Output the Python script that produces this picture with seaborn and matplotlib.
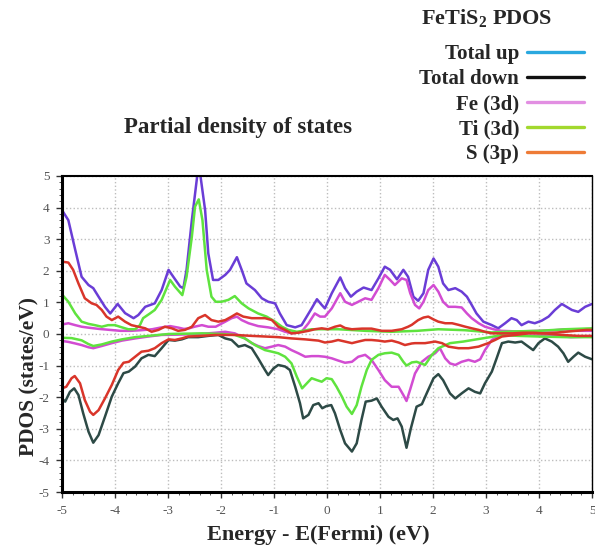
import pandas as pd
import matplotlib
matplotlib.use("Agg")
import matplotlib.pyplot as plt
from matplotlib.lines import Line2D
from matplotlib.ticker import MultipleLocator
import seaborn as sns

# Leitura aproximada das curvas (energia E-Ef em eV, PDOS em states/eV)
tot_up = [(-5.0, 3.92), (-4.88, 3.6), (-4.75, 2.66), (-4.63, 1.81), (-4.5, 1.55), (-4.41, 1.45),
          (-4.31, 1.18), (-4.19, 0.86), (-4.09, 0.65), (-3.95, 0.95), (-3.81, 0.66), (-3.65, 0.5),
          (-3.56, 0.6), (-3.43, 0.86), (-3.25, 0.97), (-3.12, 1.39), (-2.99, 2.03), (-2.9, 1.81),
          (-2.77, 1.5), (-2.71, 1.45), (-2.65, 2.03), (-2.55, 3.6), (-2.42, 5.4), (-2.3, 3.92),
          (-2.24, 2.55), (-2.15, 1.71), (-2.05, 1.71), (-1.92, 1.87), (-1.83, 2.03), (-1.7, 2.43),
          (-1.61, 2.03), (-1.52, 1.6), (-1.36, 1.39), (-1.23, 1.13), (-1.11, 1.02), (-0.98, 0.97),
          (-0.89, 0.65), (-0.76, 0.28), (-0.6, 0.21), (-0.48, 0.28), (-0.29, 0.81), (-0.19, 1.1),
          (-0.1, 0.92), (-0.04, 0.81), (0.09, 1.29), (0.25, 1.79), (0.34, 1.45), (0.45, 1.18),
          (0.56, 1.34), (0.69, 1.47), (0.84, 1.39), (0.97, 1.76), (1.09, 2.13), (1.19, 2.03),
          (1.32, 1.73), (1.44, 2.03), (1.53, 1.81), (1.63, 1.18), (1.72, 1.05), (1.82, 1.29),
          (1.91, 2.03), (2.01, 2.39), (2.1, 2.13), (2.19, 1.6), (2.29, 1.39), (2.42, 1.45),
          (2.54, 1.34), (2.64, 1.18), (2.73, 0.92), (2.82, 0.65), (2.95, 0.39), (3.11, 0.28),
          (3.23, 0.18), (3.36, 0.34), (3.48, 0.5), (3.58, 0.44), (3.67, 0.28), (3.8, 0.39),
          (3.92, 0.34), (4.05, 0.42), (4.18, 0.55), (4.3, 0.76), (4.43, 0.95), (4.52, 0.86),
          (4.62, 0.76), (4.74, 0.7), (4.87, 0.86), (5.0, 0.95)]

tot_dn = [(-5.0, -2.04), (-4.94, -2.14), (-4.85, -1.83), (-4.77, -1.72), (-4.69, -1.93), (-4.6, -2.51),
          (-4.5, -3.09), (-4.41, -3.44), (-4.31, -3.2), (-4.19, -2.62), (-4.06, -1.98), (-3.94, -1.56),
          (-3.84, -1.24), (-3.74, -1.19), (-3.62, -1.03), (-3.5, -0.77), (-3.37, -0.66), (-3.25, -0.7),
          (-3.12, -0.45), (-2.99, -0.19), (-2.87, -0.21), (-2.74, -0.17), (-2.62, -0.1), (-2.43, -0.1),
          (-2.24, -0.06), (-2.05, -0.03), (-1.92, -0.14), (-1.8, -0.19), (-1.67, -0.4), (-1.55, -0.35),
          (-1.42, -0.45), (-1.3, -0.77), (-1.17, -1.14), (-1.11, -1.3), (-1.01, -1.09), (-0.92, -0.98),
          (-0.79, -1.03), (-0.7, -1.14), (-0.6, -1.67), (-0.51, -2.19), (-0.45, -2.67), (-0.35, -2.56),
          (-0.26, -2.25), (-0.16, -2.19), (-0.09, -2.35), (-0.01, -2.28), (0.08, -2.25), (0.15, -2.51),
          (0.25, -3.04), (0.34, -3.46), (0.47, -3.72), (0.56, -3.46), (0.65, -2.72), (0.73, -2.14),
          (0.84, -2.11), (0.94, -2.04), (1.03, -2.3), (1.16, -2.62), (1.25, -2.72), (1.33, -2.67),
          (1.41, -2.93), (1.5, -3.6), (1.58, -3.0), (1.69, -2.3), (1.79, -2.22), (1.88, -1.88),
          (2.01, -1.4), (2.1, -1.27), (2.19, -1.46), (2.32, -1.88), (2.42, -2.04), (2.54, -1.88),
          (2.67, -1.72), (2.79, -1.83), (2.89, -1.88), (2.98, -1.56), (3.11, -1.19), (3.2, -0.77),
          (3.3, -0.29), (3.42, -0.24), (3.55, -0.27), (3.67, -0.24), (3.8, -0.4), (3.89, -0.51),
          (3.99, -0.29), (4.11, -0.14), (4.24, -0.24), (4.36, -0.4), (4.46, -0.61), (4.55, -0.88),
          (4.65, -0.72), (4.74, -0.59), (4.87, -0.72), (5.0, -0.8)]

fe_up = [(-5.0, 0.3), (-4.88, 0.34), (-4.75, 0.28), (-4.63, 0.23), (-4.5, 0.2), (-4.3, 0.16),
         (-4.1, 0.13), (-3.9, 0.1), (-3.7, 0.1), (-3.5, 0.12), (-3.3, 0.15), (-3.15, 0.2),
         (-2.96, 0.25), (-2.8, 0.2), (-2.7, 0.16), (-2.6, 0.18), (-2.5, 0.23), (-2.36, 0.28),
         (-2.24, 0.23), (-2.1, 0.23), (-1.92, 0.39), (-1.8, 0.5), (-1.7, 0.55), (-1.61, 0.44),
         (-1.48, 0.34), (-1.3, 0.25), (-1.11, 0.21), (-0.92, 0.15), (-0.79, 0.07), (-0.67, 0.02),
         (-0.48, 0.07), (-0.35, 0.34), (-0.23, 0.65), (-0.13, 0.55), (-0.04, 0.55), (0.09, 0.81),
         (0.25, 1.29), (0.34, 1.02), (0.47, 0.92), (0.59, 1.02), (0.72, 1.13), (0.84, 1.08),
         (0.97, 1.45), (1.09, 1.87), (1.19, 1.71), (1.28, 1.55), (1.41, 1.76), (1.5, 1.71),
         (1.57, 1.29), (1.66, 0.92), (1.74, 0.81), (1.82, 1.02), (1.91, 1.39), (2.01, 1.55),
         (2.1, 1.34), (2.19, 1.02), (2.29, 0.86), (2.42, 0.86), (2.54, 0.84), (2.64, 0.65),
         (2.73, 0.5), (2.86, 0.34), (2.98, 0.23), (3.14, 0.15), (3.29, 0.1), (3.6, 0.08),
         (4.0, 0.1), (4.3, 0.12), (4.5, 0.15), (4.7, 0.1), (5.0, 0.1)]

fe_dn = [(-5.0, -0.22), (-4.88, -0.25), (-4.75, -0.3), (-4.63, -0.35), (-4.5, -0.42), (-4.41, -0.45),
         (-4.25, -0.38), (-4.06, -0.29), (-3.87, -0.21), (-3.62, -0.14), (-3.37, -0.08), (-3.12, -0.03),
         (-2.8, -0.02), (-2.4, 0.0), (-2.1, 0.04), (-1.92, 0.07), (-1.74, 0.02), (-1.55, -0.14),
         (-1.42, -0.29), (-1.3, -0.38), (-1.17, -0.45), (-1.04, -0.4), (-0.92, -0.35), (-0.79, -0.4),
         (-0.67, -0.51), (-0.54, -0.61), (-0.41, -0.72), (-0.29, -0.7), (-0.16, -0.7), (-0.04, -0.72),
         (0.09, -0.77), (0.21, -0.84), (0.34, -0.91), (0.47, -0.88), (0.59, -0.72), (0.72, -0.66),
         (0.84, -0.82), (0.97, -1.14), (1.09, -1.46), (1.22, -1.67), (1.35, -1.67), (1.44, -1.93),
         (1.5, -2.12), (1.57, -1.75), (1.66, -1.25), (1.79, -0.88), (1.91, -0.72), (2.04, -0.61),
         (2.13, -0.45), (2.23, -0.77), (2.32, -0.93), (2.42, -0.98), (2.54, -0.88), (2.67, -0.82),
         (2.79, -0.88), (2.89, -0.8), (2.98, -0.51), (3.11, -0.19), (3.23, -0.08), (3.36, -0.03),
         (3.8, -0.05), (4.3, -0.05), (4.6, -0.1), (5.0, -0.08)]

ti_up = [(-5.0, 1.25), (-4.88, 1.02), (-4.75, 0.65), (-4.63, 0.39), (-4.5, 0.32), (-4.38, 0.28),
         (-4.25, 0.23), (-4.13, 0.28), (-4.0, 0.28), (-3.87, 0.21), (-3.75, 0.15), (-3.62, 0.15),
         (-3.53, 0.28), (-3.47, 0.5), (-3.34, 0.65), (-3.25, 0.76), (-3.12, 1.08), (-2.96, 1.71),
         (-2.87, 1.5), (-2.73, 1.23), (-2.65, 1.81), (-2.55, 3.08), (-2.49, 4.03), (-2.42, 4.26),
         (-2.35, 3.6), (-2.27, 2.03), (-2.18, 1.18), (-2.1, 1.02), (-1.99, 1.02), (-1.86, 1.08),
         (-1.74, 1.2), (-1.61, 0.97), (-1.48, 0.81), (-1.3, 0.65), (-1.14, 0.55), (-0.98, 0.39),
         (-0.85, 0.23), (-0.73, 0.13), (-0.57, 0.07), (-0.29, 0.15), (0.21, 0.15), (0.72, 0.1),
         (1.22, 0.07), (1.7, 0.1), (2.1, 0.15), (2.6, 0.12), (3.1, 0.05), (3.5, 0.08),
         (4.0, 0.1), (4.5, 0.15), (5.0, 0.18)]

ti_dn = [(-5.0, -0.12), (-4.82, -0.13), (-4.63, -0.2), (-4.5, -0.32), (-4.41, -0.38), (-4.25, -0.33),
         (-4.06, -0.24), (-3.87, -0.17), (-3.62, -0.1), (-3.37, -0.06), (-2.99, 0.0), (-2.36, 0.02),
         (-1.99, 0.0), (-1.74, -0.03), (-1.55, -0.14), (-1.36, -0.35), (-1.17, -0.51), (-1.04, -0.56),
         (-0.92, -0.61), (-0.79, -0.72), (-0.67, -0.93), (-0.57, -1.35), (-0.47, -1.72), (-0.38, -1.56),
         (-0.29, -1.4), (-0.19, -1.46), (-0.1, -1.51), (-0.01, -1.4), (0.09, -1.43), (0.18, -1.67),
         (0.28, -1.98), (0.37, -2.3), (0.47, -2.53), (0.56, -2.25), (0.65, -1.67), (0.75, -1.14),
         (0.84, -0.82), (0.97, -0.66), (1.09, -0.61), (1.22, -0.59), (1.35, -0.66), (1.44, -0.88),
         (1.5, -1.0), (1.6, -0.9), (1.69, -0.88), (1.85, -0.98), (1.98, -0.66), (2.1, -0.45),
         (2.32, -0.29), (2.57, -0.24), (2.82, -0.17), (3.08, -0.1), (3.3, -0.03), (3.6, -0.06),
         (4.0, -0.08), (4.5, -0.1), (5.0, -0.1)]

s_up = [(-5.0, 2.29), (-4.88, 2.26), (-4.79, 2.03), (-4.69, 1.6), (-4.57, 1.13), (-4.44, 0.97),
        (-4.35, 0.92), (-4.25, 0.76), (-4.16, 0.55), (-4.06, 0.44), (-3.94, 0.55), (-3.81, 0.39),
        (-3.69, 0.28), (-3.56, 0.23), (-3.43, 0.18), (-3.31, 0.07), (-3.18, 0.13), (-3.06, 0.23),
        (-2.93, 0.18), (-2.81, 0.1), (-2.68, 0.13), (-2.55, 0.23), (-2.43, 0.5), (-2.3, 0.6),
        (-2.18, 0.44), (-2.05, 0.39), (-1.92, 0.44), (-1.8, 0.55), (-1.7, 0.65), (-1.58, 0.55),
        (-1.42, 0.5), (-1.3, 0.5), (-1.17, 0.5), (-1.04, 0.44), (-0.92, 0.23), (-0.79, 0.13),
        (-0.67, 0.02), (-0.54, 0.04), (-0.35, 0.1), (-0.23, 0.15), (-0.1, 0.18), (0.02, 0.15),
        (0.15, 0.23), (0.25, 0.27), (0.34, 0.19), (0.47, 0.15), (0.66, 0.17), (0.84, 0.17),
        (1.03, 0.1), (1.22, 0.1), (1.41, 0.15), (1.53, 0.23), (1.6, 0.29), (1.72, 0.44),
        (1.82, 0.52), (1.91, 0.55), (2.01, 0.46), (2.1, 0.39), (2.23, 0.34), (2.36, 0.34),
        (2.48, 0.29), (2.61, 0.23), (2.73, 0.18), (2.86, 0.13), (2.98, 0.07), (3.11, 0.02),
        (3.3, 0.02), (3.5, 0.02), (3.7, 0.04), (3.9, 0.04), (4.1, 0.02), (4.3, 0.04),
        (4.5, 0.07), (4.7, 0.1), (4.9, 0.13), (5.0, 0.13)]

s_dn = [(-5.0, -1.72), (-4.92, -1.67), (-4.82, -1.4), (-4.76, -1.33), (-4.66, -1.56), (-4.57, -2.09),
        (-4.47, -2.46), (-4.41, -2.56), (-4.31, -2.41), (-4.19, -2.04), (-4.06, -1.61), (-3.94, -1.14),
        (-3.84, -0.91), (-3.74, -0.88), (-3.62, -0.72), (-3.5, -0.56), (-3.37, -0.53), (-3.25, -0.45),
        (-3.12, -0.29), (-2.99, -0.17), (-2.87, -0.19), (-2.74, -0.14), (-2.62, -0.08), (-2.36, -0.06),
        (-2.11, -0.03), (-1.74, -0.03), (-1.42, -0.06), (-1.17, -0.08), (-0.92, -0.1), (-0.67, -0.14),
        (-0.41, -0.17), (-0.16, -0.21), (-0.04, -0.27), (0.09, -0.24), (0.21, -0.19), (0.34, -0.24),
        (0.47, -0.29), (0.59, -0.24), (0.72, -0.19), (0.84, -0.19), (0.97, -0.21), (1.09, -0.24),
        (1.22, -0.21), (1.35, -0.27), (1.47, -0.35), (1.6, -0.3), (1.66, -0.29), (1.85, -0.29),
        (2.04, -0.24), (2.17, -0.29), (2.29, -0.4), (2.48, -0.45), (2.67, -0.45), (2.86, -0.4),
        (3.04, -0.29), (3.17, -0.19), (3.3, -0.08), (3.55, -0.03), (3.8, 0.02), (4.11, 0.02),
        (4.43, -0.03), (4.74, -0.06), (5.0, -0.06)]

# (nome, dados, cor da curva)
curvas = [("Total up", tot_up, "#6a3dd6"),
          ("Total down", tot_dn, "#2d4a46"),
          ("Fe up", fe_up, "#d24cd2"),
          ("Fe down", fe_dn, "#d24cd2"),
          ("Ti up", ti_up, "#5fe33e"),
          ("Ti down", ti_dn, "#5fe33e"),
          ("S up", s_up, "#d9352a"),
          ("S down", s_dn, "#d9352a")]

# legenda (cores como aparecem na figura original)
leg_labels = ["Total up", "Total down", "Fe (3d)", "Ti (3d)", "S (3p)"]
leg_cores = ["#2aa8df", "#111111", "#e28fe2", "#a2d82e", "#ee7b36"]

sns.set_style("whitegrid", {"grid.linestyle": ":", "grid.color": "#bdbdbd"})
plt.rcParams["font.family"] = ["Liberation Serif", "DejaVu Serif"]
plt.rcParams["axes.unicode_minus"] = False
plt.rcParams["mathtext.fontset"] = "custom"
plt.rcParams["mathtext.bf"] = "Liberation Serif:bold"
plt.rcParams["mathtext.rm"] = "Liberation Serif:bold"

fig = plt.figure(figsize=(5.95, 5.46), dpi=100)
ax = fig.add_axes([0.1042, 0.0989, 0.8908, 0.5788])

for nome, dados, cor in curvas:
    df = pd.DataFrame(dados, columns=["E", "pdos"])
    sns.lineplot(data=df, x="E", y="pdos", color=cor, lw=1.8, estimator=None, sort=False, ax=ax)

ax.set_xlim(-5, 5)
ax.set_ylim(-5, 5)
ax.set_xticks(range(-5, 6))
ax.set_yticks(range(-5, 6))
ax.xaxis.set_minor_locator(MultipleLocator(0.2))
ax.yaxis.set_minor_locator(MultipleLocator(0.2))
ax.grid(True, which="major", linestyle=":", color="#bdbdbd", lw=1)
ax.grid(False, which="minor")
ax.tick_params(axis="both", which="major", labelsize=9.5, labelcolor="#555555", length=4,
               width=1, color="#333333", direction="out", pad=5, left=True, bottom=True)
ax.tick_params(axis="both", which="minor", length=2.5, width=0.7, color="#555555",
               direction="out", left=True, bottom=True)
for lado, lw in [("left", 2.2), ("bottom", 2.2), ("top", 1.5), ("right", 1.0)]:
    ax.spines[lado].set_color("black")
    ax.spines[lado].set_linewidth(lw)

ax.set_xlabel("Energy - E(Fermi) (eV)", fontsize=16, fontweight="bold")
ax.set_ylabel("PDOS (states/eV)", fontsize=15.5, fontweight="bold")
ax.xaxis.set_label_coords(0.483, -0.105)
ax.yaxis.set_label_coords(-0.042, 0.364)

fig.text(0.40, 1 - 127 / 546, "Partial density of states", ha="center", va="center",
         fontsize=16.5, fontweight="bold")

fig.text(421 / 595, 1 - 19 / 546, "FeTiS$_\\mathbf{2}$ PDOS", ha="left", va="center",
         fontsize=16, fontweight="bold")

handles = [Line2D([], [], color=c, lw=2.4) for c in leg_cores]
fig.legend(handles, leg_labels, loc="upper left", bbox_to_anchor=(411 / 595, 1 - 36 / 546),
           frameon=False, markerfirst=False, handlelength=2.7, handletextpad=0.4,
           labelspacing=0.24, borderaxespad=0, prop={"weight": "bold", "size": 15})

plt.savefig("out.png", dpi=100)
